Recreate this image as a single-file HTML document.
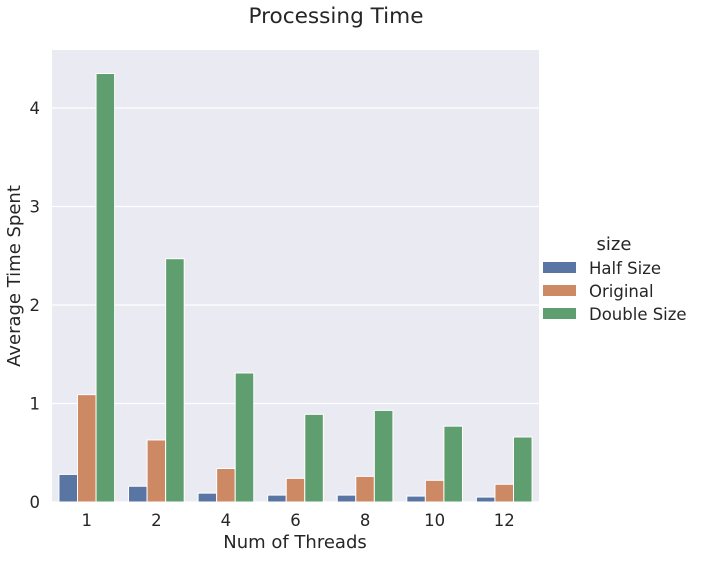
<!DOCTYPE html>
<html><head><meta charset="utf-8"><style>
body{margin:0;background:#fff;font-family:"DejaVu Sans",sans-serif;}
</style></head><body>
<svg id="chart" width="701" height="559" xmlns="http://www.w3.org/2000/svg" font-family="DejaVu Sans, sans-serif">
<text x="336" y="23" font-size="21.6" text-anchor="middle" fill="#262626">Processing Time</text>
<rect x="52" y="50" width="487" height="452" fill="#eaeaf2"/>
<g id="grid"></g><g id="bars"></g><g id="axes"></g>
<text x="295" y="548" font-size="18" text-anchor="middle" fill="#262626">Num of Threads</text>
<text transform="translate(20,276) rotate(-90)" font-size="18" text-anchor="middle" fill="#262626">Average Time Spent</text>
<g>
<text x="614" y="250" font-size="18" text-anchor="middle" fill="#262626">size</text>
<rect x="543" y="262" width="33" height="11" fill="#5975a4"/>
<text x="589" y="274" font-size="16.5" fill="#262626">Half Size</text>
<rect x="543" y="285" width="33" height="11" fill="#cc8963"/>
<text x="589" y="297" font-size="16.5" fill="#262626">Original</text>
<rect x="543" y="308" width="33" height="11" fill="#5f9e6e"/>
<text x="589" y="320" font-size="16.5" fill="#262626">Double Size</text>
</g>
</svg>
<script>
const categories=["1","2","4","6","8","10","12"];
const halfSize=[0.28,0.16,0.09,0.07,0.07,0.06,0.05];
const original=[1.09,0.63,0.34,0.24,0.26,0.22,0.18];
const doubleSize=[4.35,2.47,1.31,0.89,0.93,0.77,0.66];
const yTicks=[0,1,2,3,4];
const NS="http://www.w3.org/2000/svg";
const X0=52,X1=539,Y0=502,PX=98.5;
const band=(X1-X0)/categories.length;
const y=v=>Y0-v*PX;
const xc=i=>X0+band*(i+0.5);
function mk(t,a,p){const e=document.createElementNS(NS,t);for(const k in a)e.setAttribute(k,a[k]);p.appendChild(e);return e;}
const grid=document.getElementById('grid'),bars=document.getElementById('bars'),axes=document.getElementById('axes');
yTicks.forEach(t=>{
 const l=mk('line',{x1:X0,x2:X1,y1:y(t),y2:y(t),stroke:'#fff','stroke-width':1.3},grid);
 
 
 const tx=mk('text',{x:X0-12,y:y(t)+6,'font-size':16.5,'text-anchor':'end',fill:'#262626'},axes);
 tx.textContent=t;
 
 
});
const series=[[halfSize,'#5975a4','half'],[original,'#cc8963','original'],[doubleSize,'#5f9e6e','double']];
const bw=band*0.8/3;
categories.forEach((c,i)=>{
 series.forEach((s,j)=>{
  const v=s[0][i];
  const r=mk('rect',{x:xc(i)-band*0.4+j*bw,y:y(v),width:bw,height:v*PX,fill:s[1],stroke:'#fff','stroke-width':1},bars);
  
  
 });
 const tx=mk('text',{x:xc(i),y:Y0+24,'font-size':16.5,'text-anchor':'middle',fill:'#262626'},axes);
 tx.textContent=c;
 
 
});
</script>
</body></html>
